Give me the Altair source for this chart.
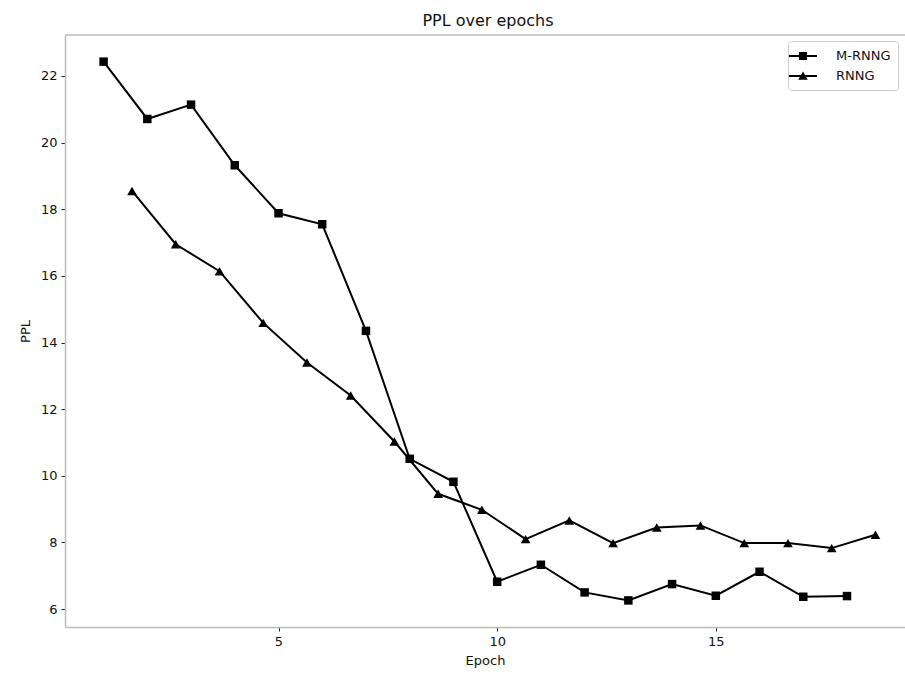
import altair as alt
import pandas as pd

series_names = ["M-RNNG", "RNNG"]
mrnng_epochs = [1, 2, 3, 4, 5, 6, 7, 8, 9, 10, 11, 12, 13, 14, 15, 16, 17, 18]
mrnng_ppl = [22.43, 20.71, 21.14, 19.32, 17.88, 17.55, 14.35, 10.51, 9.82, 6.82,
             7.33, 6.50, 6.26, 6.75, 6.40, 7.12, 6.37, 6.39]
rnng_epochs = [1.65, 2.65, 3.65, 4.65, 5.65, 6.65, 7.65, 8.65, 9.65, 10.65,
               11.65, 12.65, 13.65, 14.65, 15.65, 16.65, 17.65, 18.65]
rnng_ppl = [18.55, 16.95, 16.14, 14.59, 13.40, 12.41, 11.03, 9.46, 8.98, 8.10,
            8.66, 7.98, 8.45, 8.51, 7.98, 7.98, 7.83, 8.23]
x_ticks = [5, 10, 15]
y_ticks = [6, 8, 10, 12, 14, 16, 18, 20, 22]

df = pd.concat([
    pd.DataFrame({"Epoch": mrnng_epochs, "PPL": mrnng_ppl, "Model": series_names[0]}),
    pd.DataFrame({"Epoch": rnng_epochs, "PPL": rnng_ppl, "Model": series_names[1]}),
])

W, H = 840, 592
x_dom = [0.1175, 0.1175 + W / 43.73]
y_dom = [5.462, 23.23]

xs = alt.Scale(domain=x_dom, nice=False, zero=False)
ys = alt.Scale(domain=y_dom, nice=False, zero=False)
x_ax = alt.Axis(values=x_ticks, grid=False, title="Epoch", domainColor="#bbbbbb",
                domainWidth=1.5, tickColor="#222222", tickSize=4, labelPadding=4,
                titlePadding=6)
y_ax = alt.Axis(values=y_ticks, grid=False, title="PPL", domainColor="#bbbbbb",
                domainWidth=1.5, tickColor="#222222", tickSize=4, labelPadding=4,
                titlePadding=8)

base = alt.Chart(df)

lines = base.mark_line(color="black", strokeWidth=2).encode(
    x=alt.X("Epoch:Q", scale=xs, axis=x_ax),
    y=alt.Y("PPL:Q", scale=ys, axis=y_ax),
    detail="Model:N",
)

points = base.mark_point(filled=True, color="black", opacity=1).encode(
    x=alt.X("Epoch:Q", scale=xs),
    y=alt.Y("PPL:Q", scale=ys),
    shape=alt.Shape("Model:N", scale=alt.Scale(domain=series_names, range=["square", "triangle-up"]), legend=None),
    size=alt.Size("Model:N", scale=alt.Scale(domain=series_names, range=[72, 95]), legend=None),
)

sq_path = "M-2,-0.14H2V0.14H-2ZM-0.58,-0.58H0.58V0.58H-0.58Z"
tri_path = "M-2,-0.14H2V0.14H-2ZM0,-0.66L0.68,0.52H-0.68Z"
legend_layer = base.mark_point(filled=True, color="black", opacity=0).encode(
    x=alt.X("Epoch:Q", scale=xs),
    y=alt.Y("PPL:Q", scale=ys),
    shape=alt.Shape(
        "Model:N",
        scale=alt.Scale(domain=series_names, range=[sq_path, tri_path]),
        legend=alt.Legend(
            title=None, orient="none", legendX=723, legendY=6,
            symbolSize=196, symbolFillColor="black", symbolOpacity=1,
            labelFontSize=13, labelFont="DejaVu Sans", labelColor="#111111",
            labelOffset=25, rowPadding=4,
            padding=7, strokeColor="#cccccc", fillColor="white", cornerRadius=3,
        ),
    ),
)

top_border = alt.Chart(pd.DataFrame({"a": [0]})).mark_rule(color="#bbbbbb", strokeWidth=1.5).encode(
    x=alt.value(0), x2=alt.value(W), y=alt.value(0)
)

chart = alt.layer(top_border, lines, points, legend_layer).resolve_scale(
    shape="independent", size="independent"
).properties(
    width=W, height=H,
    title=alt.TitleParams("PPL over epochs", fontSize=16, font="DejaVu Sans", fontWeight="normal",
                          color="#111111", offset=5, dx=3),
    autosize=alt.AutoSizeParams(type="none"),
    padding={"left": 65, "top": 35, "right": 0, "bottom": 50},
).configure_view(stroke=None).configure_axis(
    labelFont="DejaVu Sans", labelFontSize=13, labelColor="#111111",
    titleFont="DejaVu Sans", titleFontSize=13, titleFontWeight="normal", titleColor="#111111",
)

chart.save("out.html", embed_options={"renderer": "svg", "actions": False})
